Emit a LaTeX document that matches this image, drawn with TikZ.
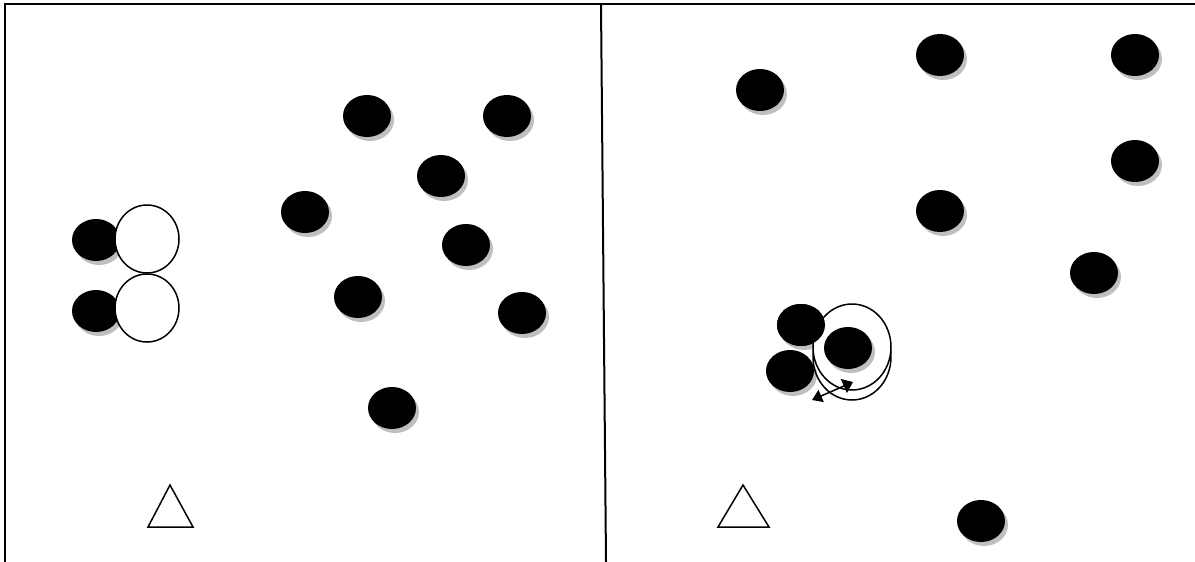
\documentclass[tikz,border=0pt]{standalone}
\usetikzlibrary{arrows.meta}
\begin{document}
\begin{tikzpicture}[x=1pt,y=-1pt,
  dot/.style={fill=black,draw=none},
  shadow/.style={fill=black!25,draw=none},
  ring/.style={draw=black,line width=1.5pt},
  frame/.style={draw=black,line width=2pt},
  tri/.style={draw=black,line width=1.5pt,fill=white}]
\useasboundingbox (0,0) rectangle (1195,562);
\fill[white] (0,0) rectangle (1195,562);
% frame
\coordinate (tl) at (5,4);
\coordinate (tr) at (1195,4);
\coordinate (bl) at (5,562);
\coordinate (dt) at (601,4);
\coordinate (db) at (606,562);
\draw[frame] (bl) -- (tl) -- (tr);
\draw[frame] (dt) -- (db);
% dots
\foreach \n/\x/\y in {a/367/116,b/507/116,c/441/176,d/305/212,e/466/245,f/96/240,g/96/311,h/358/297,i/522/313,j/392/408,
  k/760/90,l/940/55,m/1135/55,n/1135/161,o/940/211,p/1094/273,q/801/325,r/790/371,t/981/521}{
  \fill[shadow] (\x+3,\y+4) ellipse [x radius=24, y radius=21];
  \fill[dot] (\x,\y) coordinate (\n) ellipse [x radius=24, y radius=21];
}
% white ellipses (left)
\draw[ring,fill=white] (147,239) coordinate (w1) ellipse [x radius=32, y radius=34];
\draw[ring,fill=white] (147,308) coordinate (w2) ellipse [x radius=32, y radius=34];
% rings (right)
\draw[ring] (852,357) coordinate (r2) ellipse [x radius=39, y radius=43];
\draw[ring,fill=white] (852,347) coordinate (r1) ellipse [x radius=39, y radius=43];
\fill[dot] (801,325) ellipse [x radius=24, y radius=21];
\fill[shadow] (851,352) ellipse [x radius=24, y radius=21];
\fill[dot] (848,348) coordinate (s) ellipse [x radius=24, y radius=21];
% arrow
\coordinate (a1) at (812,400);
\coordinate (a2) at (853,382);
\draw[line width=1.5pt,{Triangle[length=10pt,width=13pt]}-{Triangle[length=10pt,width=15pt]}] (a1) -- (a2);
% triangles
\draw[tri] (170,485) coordinate (t1) -- (193,527) -- (148,527) -- cycle;
\draw[tri] (743,485) coordinate (t2) -- (769,527) -- (718,527) -- cycle;
\end{tikzpicture}
\end{document}
